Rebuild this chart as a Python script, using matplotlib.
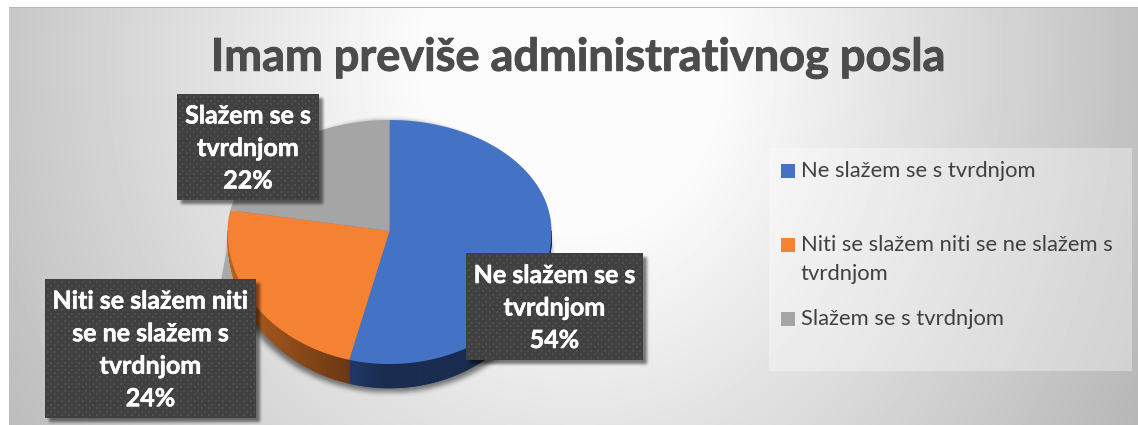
import numpy as np
import matplotlib
matplotlib.use("Agg")
import matplotlib.pyplot as plt
import matplotlib.patheffects as pe
from matplotlib.colors import to_rgb
from matplotlib.patches import Polygon, Rectangle

plt.rcParams['font.family'] = ['Lato', 'DejaVu Sans']

title = "Imam previše administrativnog posla"
categories = ["Ne slažem se s tvrdnjom", "Niti se slažem niti se ne slažem s tvrdnjom", "Slažem se s tvrdnjom"]
values = [54, 24, 22]
label_lines = ["Ne slažem se s\ntvrdnjom", "Niti se slažem niti\nse ne slažem s\ntvrdnjom", "Slažem se s\ntvrdnjom"]
legend_lines = ["Ne slažem se s tvrdnjom", "Niti se slažem niti se ne slažem s\ntvrdnjom", "Slažem se s tvrdnjom"]
colors = ["#4472c4", "#f58133", "#a5a5a5"]
side_left = ["#21386a", "#b8621f", "#777777"]
side_right = ["#182b50", "#6b3713", "#777777"]

W, H = 1138, 425
cx, cy = 389.5, 231
rx, ry_up, ry_down, depth = 162, 111, 133, 24


def blur(a, n):
    k = np.ones(n) / n
    for i in range(3):
        a = np.apply_along_axis(lambda r: np.convolve(r, k, mode='same'), 0, a)
        a = np.apply_along_axis(lambda r: np.convolve(r, k, mode='same'), 1, a)
    return a


def to_px(x, y):
    # tilted pie: the front half is stretched more than the back half
    return cx + rx * x, cy - np.where(y > 0, y * ry_up, y * ry_down)


fig = plt.figure(figsize=(W / 100, H / 100), dpi=100, facecolor="white")
ax = fig.add_axes([0, 0, 1, 1])

wedges, _ = ax.pie(values, startangle=90, counterclock=False, colors=colors)
ax.set_aspect('auto')
ax.set_xlim(0, W)
ax.set_ylim(H, 0)
ax.axis('off')

# background
yy, xx = np.mgrid[0:H, 0:W]
dx = (xx - 580) / np.where(xx < 580, 650, 580)
dy = (yy - 60) / 700
d = np.sqrt(dx ** 2 + dy ** 2)
bg = 0.985 - 0.32 * np.clip(d - 0.25, 0, None)
bg[:, :9] = 1
bg[:7, :] = 1
bg[7, 9:] = 0.72
ax.imshow(bg, cmap='gray', vmin=0, vmax=1, extent=(0, W, H, 0), aspect='auto', zorder=0, interpolation='bilinear')

# shadow under the pie
mask = np.zeros((H, W))
inside = ((xx - cx) / (rx - 1)) ** 2 + ((yy - (cy + 25)) / (ry_down + 3)) ** 2 < 1
mask[inside] = 1
rgba = np.zeros((H, W, 4))
rgba[..., 3] = blur(mask, 5) * 0.5
ax.imshow(rgba, extent=(0, W, H, 0), aspect='auto', zorder=1)
ax.add_patch(Polygon([[236, 203], [221, 280], [245, 280], [228, 235]], closed=True, fc="#a8a8a8", ec="none", zorder=1))

# pie side and top
for i, w in enumerate(wedges):
    w.set_visible(False)
    angles = np.append(np.arange(w.theta1, w.theta2, 0.5), w.theta2)
    for a, b in zip(angles[:-1], angles[1:]):
        if np.sin(np.radians((a + b) / 2)) > 0:
            continue
        xs, ys = to_px(np.cos(np.radians([a, b])), np.sin(np.radians([a, b])))
        dep = depth * np.abs(np.sin(np.radians([a, b]))) ** 0.6
        frac = (xs[0] - 228) / 120 if i == 1 else (xs[0] - 345) / 40
        frac = np.clip(frac, 0, 1)
        c = np.array(to_rgb(side_left[i])) * (1 - frac) + np.array(to_rgb(side_right[i])) * frac
        ax.add_patch(Polygon([[xs[0], ys[0]], [xs[1], ys[1]], [xs[1], ys[1] + dep[1]], [xs[0], ys[0] + dep[0]]],
                             closed=True, fc=c, ec=c, lw=0.5, zorder=2))

for w in wedges:
    th = np.radians(np.linspace(w.theta1, w.theta2, 200))
    px, py = to_px(np.cos(th), np.sin(th))
    ax.add_patch(Polygon(np.column_stack([np.append(px, cx), np.append(py, cy)]), closed=True,
                         fc=w.get_facecolor(), ec="none", zorder=3))

# data labels
boxes = [(466, 253, 643, 360), (45, 279, 256, 418), (177, 94, 319, 200)]
mask = np.zeros((H, W))
for x0, y0, x1, y1 in boxes:
    mask[y0 + 4:y1 + 4, x0 + 4:x1 + 4] = 1
rgba = np.zeros((H, W, 4))
rgba[..., 3] = blur(mask, 3) * 0.5
ax.imshow(rgba, extent=(0, W, H, 0), aspect='auto', zorder=4)

for (x0, y0, x1, y1), txt, v in zip(boxes, label_lines, values):
    ax.add_patch(Rectangle((x0, y0), x1 - x0, y1 - y0, fc="#404040", ec="none", zorder=5))
    gx, gy = [], []
    for r, gyy in enumerate(np.arange(y0 + 3, y1 - 1, 3.5)):
        for gxx in np.arange(x0 + 3 + (r % 2) * 3.5, x1 - 1, 7):
            gx.append(gxx)
            gy.append(gyy)
    ax.scatter(gx, gy, s=1.6, c="#4e4e4e", marker='s', linewidths=0, zorder=6)
    ax.text((x0 + x1) / 2, (y0 + y1) / 2 + 1.5, "%s\n%d%%" % (txt, v), color="white", fontsize=18, fontweight='bold',
            ha='center', va='center', linespacing=1.5, zorder=7,
            path_effects=[pe.withStroke(linewidth=0.4, foreground="white")])

# title
ax.text(578.5, 58, title, color="#4c4c4c", fontsize=32.5, fontweight='bold', ha='center', va='center', zorder=7,
        path_effects=[pe.withStroke(linewidth=0.7, foreground="#4c4c4c")])

# legend
ax.add_patch(Rectangle((769, 148), 363, 223, fc="white", ec="none", alpha=0.35, zorder=2))
swatch_y = [164, 238, 312]
for y, c, txt in zip(swatch_y, colors, legend_lines):
    ax.add_patch(Rectangle((781, y), 14, 14, fc=c, ec="none", zorder=5))
    ax.text(801, y - 3, txt, color="#404040", fontsize=15.8, ha='left', va='top', linespacing=1.58, zorder=7)

fig.savefig("out.png", dpi=100)
